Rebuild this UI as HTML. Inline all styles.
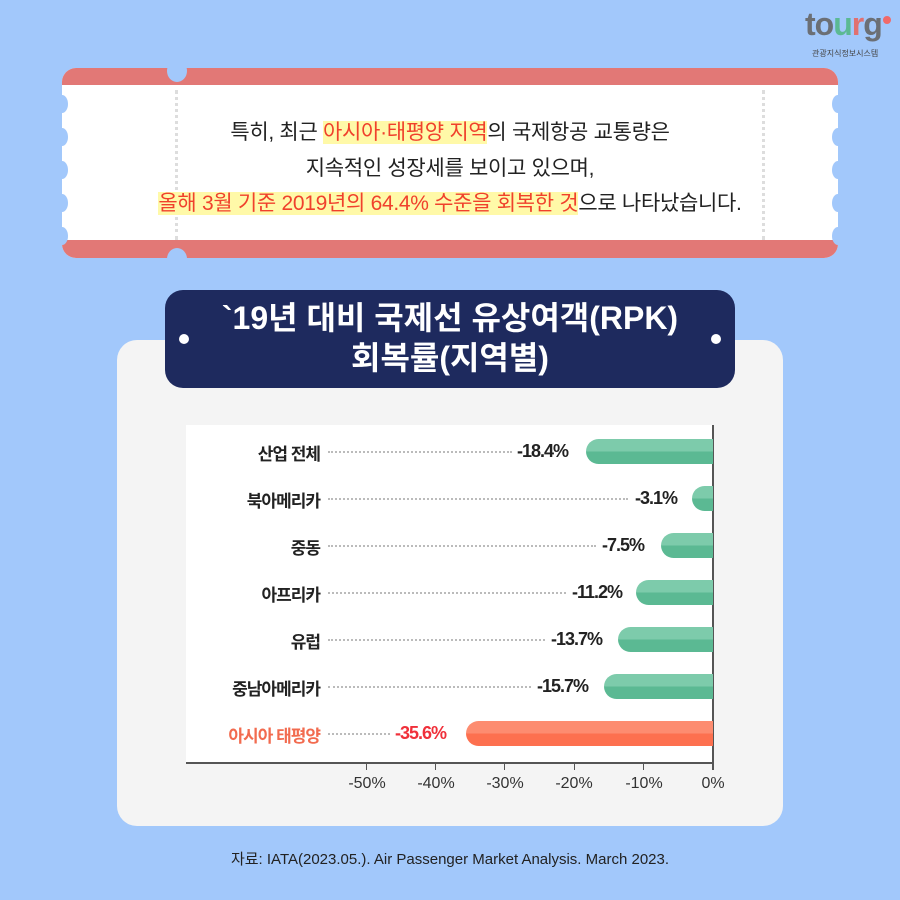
<!DOCTYPE html>
<html><head><meta charset="utf-8"><style>
body{margin:0;width:900px;height:900px;background:#a2c8fb;font-family:"Liberation Sans","Noto Sans CJK KR",sans-serif;position:relative;overflow:hidden}
.abs{position:absolute}
.t{position:absolute;left:0;width:900px;text-align:center;font-size:21px;color:#222;letter-spacing:-0.3px}
.hl{background:#fff9a8;color:#f0412c}
.lab{position:absolute;right:580px;font-size:17px;font-weight:bold;color:#222;letter-spacing:-1px;white-space:nowrap}
.val{position:absolute;font-size:18px;font-weight:bold;color:#222;letter-spacing:-1px}
.bar{position:absolute;height:25px;border-radius:13px 0 0 13px;background:linear-gradient(#7dcbab 50%,#5bb993 50%)}
.dot{position:absolute;border-top:2px dotted #bbb;height:0}
.tick{position:absolute;top:775px;font-size:16px;color:#333;width:60px;margin-left:-30px;text-align:center}
.sc{position:absolute;width:12px;height:18px;border-radius:50%;background:#a2c8fb}
</style></head><body>
<!-- logo -->
<div class="abs" style="left:805px;top:6px;font-size:32px;color:#6b6f75;font-weight:bold;letter-spacing:-1px">to<span style="color:#5bb993">u</span><span style="color:#e07070">r</span>g</div>
<div class="abs" style="left:883px;top:16px;width:8px;height:8px;border-radius:50%;background:#f06a6a"></div>
<div class="abs" style="left:812px;top:48px;font-size:8px;color:#444">관광지식정보시스템</div>
<!-- ticket -->
<div class="abs" style="left:62px;top:68px;width:776px;height:190px;background:#fff;border-radius:14px;overflow:hidden">
 <div class="abs" style="left:0;top:0;width:776px;height:17px;background:#e27876"></div>
 <div class="abs" style="left:0;top:172px;width:776px;height:18px;background:#e27876"></div>
</div>
<div class="sc" style="left:56px;top:95px"></div><div class="sc" style="left:56px;top:128px"></div><div class="sc" style="left:56px;top:161px"></div><div class="sc" style="left:56px;top:194px"></div><div class="sc" style="left:56px;top:227px"></div>
<div class="sc" style="left:832px;top:95px"></div><div class="sc" style="left:832px;top:128px"></div><div class="sc" style="left:832px;top:161px"></div><div class="sc" style="left:832px;top:194px"></div><div class="sc" style="left:832px;top:227px"></div>
<div class="abs" style="left:167px;top:60px;width:20px;height:22px;border-radius:50%;background:#a2c8fb"></div>
<div class="abs" style="left:167px;top:248px;width:20px;height:22px;border-radius:50%;background:#a2c8fb"></div>
<div class="abs" style="left:175px;top:90px;height:150px;border-left:3px dotted #ddd"></div>
<div class="abs" style="left:762px;top:90px;height:150px;border-left:3px dotted #ddd"></div>
<div class="t" style="top:116px">특히, 최근 <span class="hl">아시아·태평양 지역</span>의 국제항공 교통량은</div>
<div class="t" style="top:152px">지속적인 성장세를 보이고 있으며,</div>
<div class="t" style="top:187px"><span class="hl">올해 3월 기준 2019년의 64.4% 수준을 회복한 것</span>으로 나타났습니다.</div>
<!-- card -->
<div class="abs" style="left:117px;top:340px;width:666px;height:486px;background:#f4f4f4;border-radius:20px"></div>
<div class="abs" style="left:186px;top:425px;width:527px;height:338px;background:#fff"></div>
<div class="abs" style="left:165px;top:290px;width:570px;height:98px;background:#1e2a5e;border-radius:18px"></div>
<div class="abs" style="left:179px;top:334px;width:10px;height:10px;border-radius:50%;background:#fff"></div>
<div class="abs" style="left:711px;top:334px;width:10px;height:10px;border-radius:50%;background:#fff"></div>
<div class="abs" style="left:165px;top:298px;width:570px;text-align:center;color:#fff;font-size:32px;font-weight:bold;line-height:40px;letter-spacing:0px">`19년 대비 국제선 유상여객(RPK)<br>회복률(지역별)</div>
<!-- axes -->
<div class="abs" style="left:186px;top:762px;width:528px;height:2px;background:#555"></div>
<div class="abs" style="left:712px;top:425px;width:2px;height:345px;background:#555"></div>
<div class="abs" style="left:366px;top:763px;width:1px;height:7px;background:#555"></div>
<div class="abs" style="left:435px;top:763px;width:1px;height:7px;background:#555"></div>
<div class="abs" style="left:504px;top:763px;width:1px;height:7px;background:#555"></div>
<div class="abs" style="left:574px;top:763px;width:1px;height:7px;background:#555"></div>
<div class="abs" style="left:643px;top:763px;width:1px;height:7px;background:#555"></div>
<div class="tick" style="left:367px">-50%</div><div class="tick" style="left:436px">-40%</div><div class="tick" style="left:505px">-30%</div><div class="tick" style="left:574px">-20%</div><div class="tick" style="left:644px">-10%</div><div class="tick" style="left:713px">0%</div>
<!-- rows -->
<div class="lab" style="top:440px">산업 전체</div><div class="dot" style="left:328px;top:451px;width:184px"></div><div class="val" style="left:517px;top:441px">-18.4%</div><div class="bar" style="left:586px;top:439px;width:127px"></div>
<div class="lab" style="top:487px">북아메리카</div><div class="dot" style="left:328px;top:498px;width:300px"></div><div class="val" style="left:635px;top:488px">-3.1%</div><div class="bar" style="left:692px;top:486px;width:21px"></div>
<div class="lab" style="top:534px">중동</div><div class="dot" style="left:328px;top:545px;width:268px"></div><div class="val" style="left:602px;top:535px">-7.5%</div><div class="bar" style="left:661px;top:533px;width:52px"></div>
<div class="lab" style="top:581px">아프리카</div><div class="dot" style="left:328px;top:592px;width:238px"></div><div class="val" style="left:572px;top:582px">-11.2%</div><div class="bar" style="left:636px;top:580px;width:77px"></div>
<div class="lab" style="top:628px">유럽</div><div class="dot" style="left:328px;top:639px;width:217px"></div><div class="val" style="left:551px;top:629px">-13.7%</div><div class="bar" style="left:618px;top:627px;width:95px"></div>
<div class="lab" style="top:675px">중남아메리카</div><div class="dot" style="left:328px;top:686px;width:203px"></div><div class="val" style="left:537px;top:676px">-15.7%</div><div class="bar" style="left:604px;top:674px;width:109px"></div>
<div class="lab" style="top:722px;color:#f26b4f">아시아 태평양</div><div class="dot" style="left:328px;top:733px;width:62px"></div><div class="val" style="left:395px;top:723px;color:#f0303a">-35.6%</div><div class="bar" style="left:466px;top:721px;width:247px;background:linear-gradient(#fd8c70 50%,#fd704f 50%)"></div>
<div class="abs" style="left:0;top:848px;width:900px;text-align:center;font-size:15px;color:#222">자료: IATA(2023.05.). Air Passenger Market Analysis. March 2023.</div>
</body></html>
